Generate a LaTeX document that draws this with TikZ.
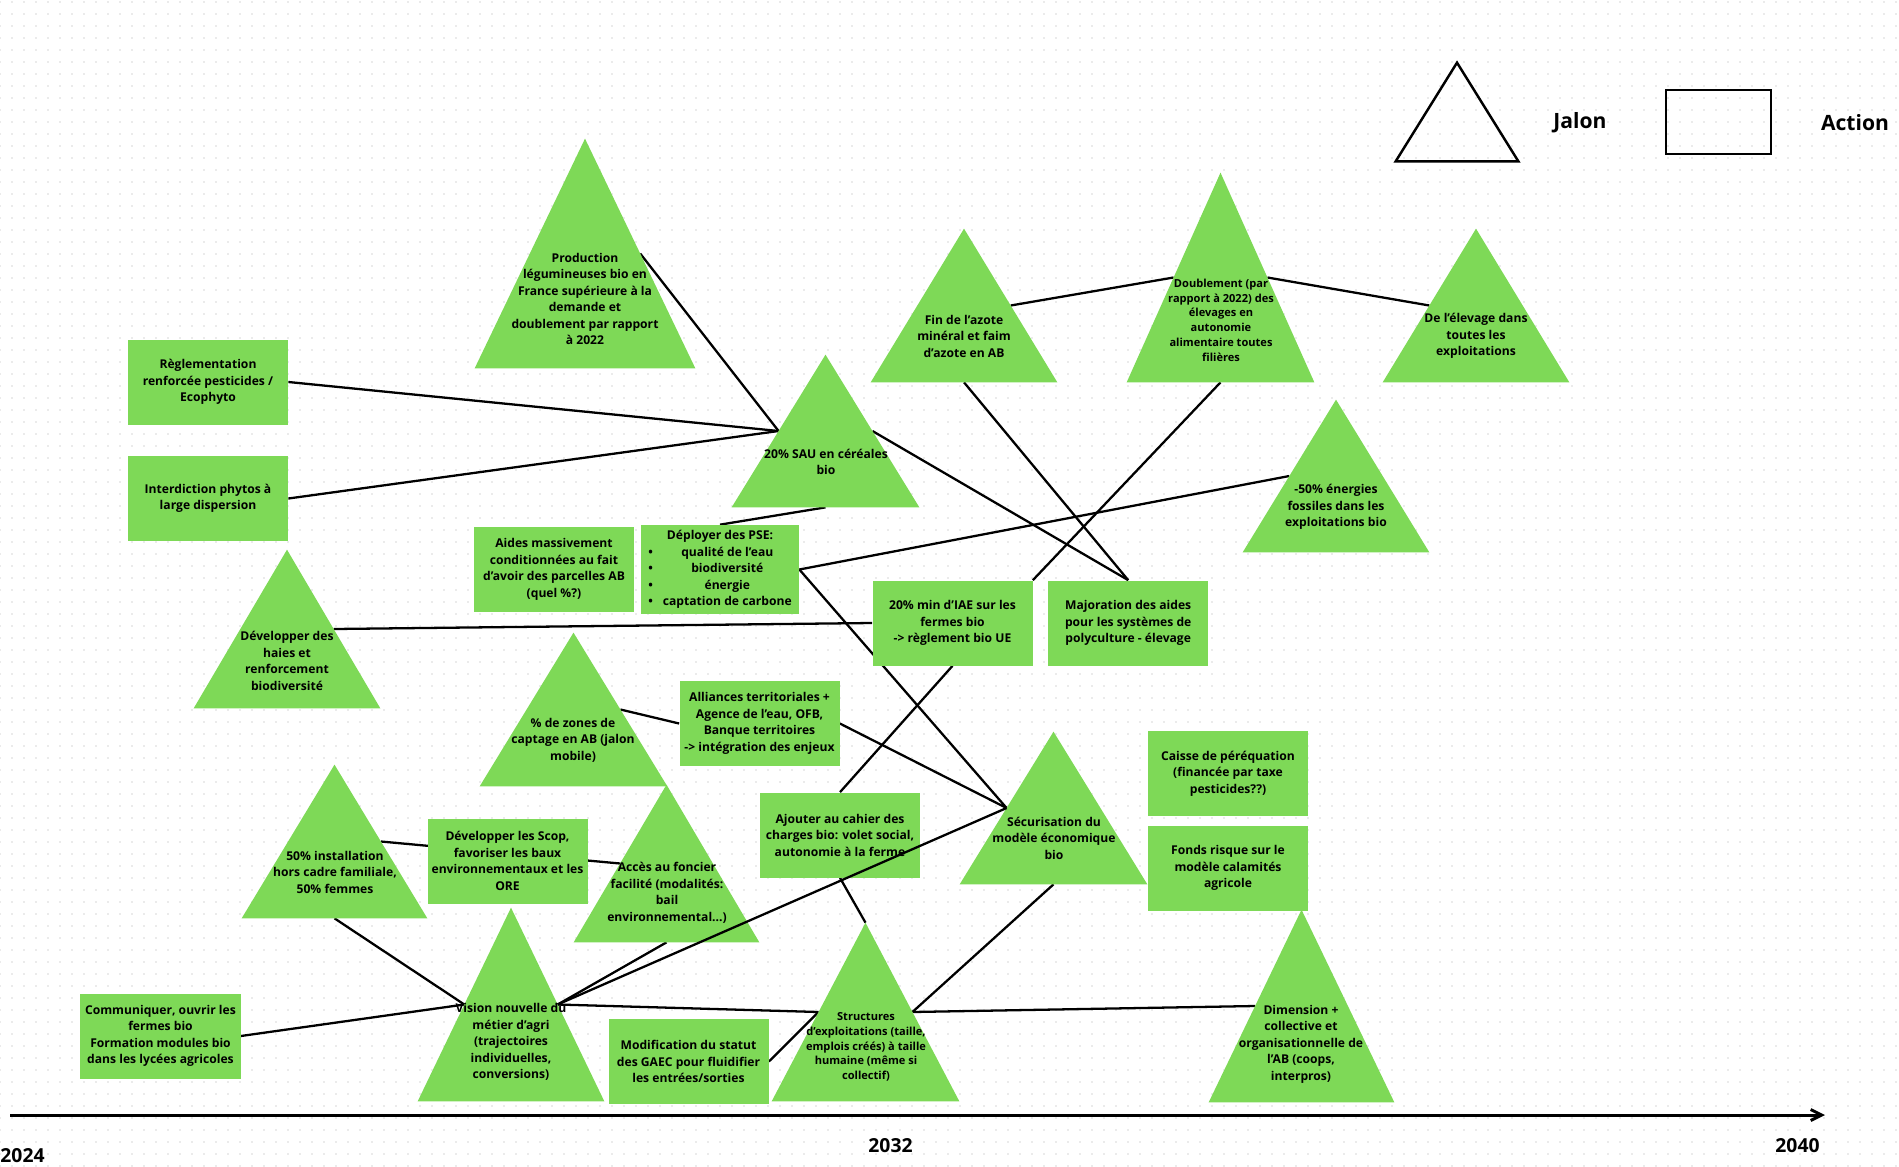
\documentclass[tikz,border=0pt]{standalone}
\usepackage{fontspec}
\setmainfont{Open Sans}
\usetikzlibrary{arrows.meta,positioning,calc,patterns.meta}
\definecolor{nodegreen}{HTML}{7ED957}
\definecolor{griddot}{HTML}{D6D6D6}
\pgfdeclarelayer{fond}
\pgfdeclarelayer{liens}
\pgfsetlayers{fond,liens,main}

\begin{document}
\begin{tikzpicture}[
  x=0.2mm, y=-0.2mm,
  every node/.style={inner sep=0pt, align=center, font=\bfseries\fontsize{6.9}{9.4}\selectfont},
  jalon/.style={minimum width=37.2mm, minimum height=30.6mm},
  action/.style={fill=nodegreen, minimum width=32mm, minimum height=17mm},
  petit/.style={font=\bfseries\fontsize{6.3}{8.4}\selectfont},
  grand/.style={font=\bfseries\fontsize{12}{14}\selectfont},
  annee/.style={font=\bfseries\fontsize{11}{13}\selectfont},
  lien/.style={line width=1.3pt},
]
  \useasboundingbox (0,0) rectangle (1899,1166);
  \begin{pgfonlayer}{fond}
    \fill[pattern={Dots[distance=2.4mm, radius=0.17mm]}, pattern color=griddot] (0,0) rectangle (1899,1166);
  \end{pgfonlayer}

  % Legende
  \node[minimum width=24.4mm, minimum height=19.6mm] (legjalon) at (1457,112) {};
  \draw[line width=1.4pt] (legjalon.south west) -- (legjalon.north) -- (legjalon.south east) -- cycle;
  \node[grand] (txtjalon) at (1580,123) {Jalon};
  \node[draw, line width=1.4pt, minimum width=21mm, minimum height=12.8mm] (legaction) at (1718.5,122) {};
  \node[grand] (txtaction) at (1855,123) {Action};

  % Jalons
  \node[jalon, minimum width=44mm, minimum height=45.8mm] (prod) at (585,253.5) {};
  \node[jalon, minimum width=37.4mm, minimum height=30.4mm] (sau) at (825.5,431) {};
  \node[jalon] (azote) at (964,305.5) {};
  \node[jalon, minimum width=37.4mm, minimum height=41.8mm] (doubl) at (1220.5,277.5) {};
  \node[jalon] (elev) at (1476,305.5) {};
  \node[jalon, minimum height=30.4mm] (ener) at (1336,476) {};
  \node[jalon, minimum height=31.6mm] (haies) at (287,629) {};
  \node[jalon, minimum width=37.4mm] (capt) at (573.5,709.5) {};
  \node[jalon, minimum width=37mm] (inst) at (334.5,841.5) {};
  \node[jalon, minimum width=37mm, minimum height=31.4mm] (fonc) at (666.5,863.5) {};
  \node[jalon, minimum height=38.6mm] (vision) at (511,1004.5) {};
  \node[jalon, minimum width=37.4mm, minimum height=35.6mm] (struct) at (865.5,1012) {};
  \node[jalon, minimum width=37.4mm, minimum height=30.4mm] (secu) at (1053.5,808) {};
  \node[jalon, minimum width=37mm, minimum height=38.4mm] (dim) at (1301.5,1006) {};
  \foreach \j in {prod,sau,azote,doubl,elev,ener,haies,capt,inst,fonc,vision,struct,secu,dim}
    \fill[nodegreen] (\j.south west) -- (\j.north) -- (\j.south east) -- cycle;

  \node (prod-t) at (585,299) {Production\\légumineuses bio en\\France supérieure à la\\demande et\\doublement par rapport\\à 2022};
  \node (sau-t) at (826,462) {20\% SAU en céréales\\bio};
  \node (azote-t) at (964,336) {Fin de l’azote\\minéral et faim\\d’azote en AB};
  \node[petit] (doubl-t) at (1221,320) {Doublement (par\\rapport à 2022) des\\élevages en\\autonomie\\alimentaire toutes\\filières};
  \node (elev-t) at (1476,336) {De l’élevage dans\\toutes les\\exploitations};
  \node (ener-t) at (1336,507) {-50\% énergies\\fossiles dans les\\exploitations bio};
  \node (haies-t) at (287,661) {Développer des\\haies et\\renforcement\\biodiversité};
  \node (capt-t) at (573,740) {\% de zones de\\captage en AB (jalon\\mobile)};
  \node (inst-t) at (335,872) {50\% installation\\hors cadre familiale,\\50\% femmes};
  \node (fonc-t) at (667,893) {Accès au foncier\\facilité (modalités:\\bail\\environnemental...)};
  \node (vision-t) at (511,1042) {Vision nouvelle du\\métier d’agri\\(trajectoires\\individuelles,\\conversions)};
  \node[petit] (struct-t) at (866,1047) {Structures\\d’exploitations (taille,\\emplois créés) à taille\\humaine (même si\\collectif)};
  \node (secu-t) at (1054,838) {Sécurisation du\\modèle économique\\bio};
  \node (dim-t) at (1301,1044) {Dimension +\\collective et\\organisationnelle de\\l’AB (coops,\\interpros)};

  % Actions
  \node[action] (regl) at (208,382) {Règlementation\\renforcée pesticides /\\Ecophyto};
  \node[action] (interd) at (208,498.5) {Interdiction phytos à\\large dispersion};
  \node[action] (aides) at (554,569.5) {Aides massivement\\conditionnées au fait\\d’avoir des parcelles AB\\(quel \%?)};
  \node[action, minimum width=31.6mm, minimum height=17.8mm] (pse) at (720,569.5) {%
    \begin{tabular}{@{}c@{\hspace{2mm}}c@{}}
      \multicolumn{2}{c}{Déployer des PSE:}\\
      \textbullet & qualité de l’eau\\
      \textbullet & biodiversité\\
      \textbullet & énergie\\
      \textbullet & captation de carbone
    \end{tabular}};
  \node[action] (iae) at (952.5,623) {20\% min d’IAE sur les\\fermes bio\\-> règlement bio UE};
  \node[action, right=3mm of iae] (major) {Majoration des aides\\pour les systèmes de\\polyculture - élevage};
  \node[action] (alli) at (759.5,723.5) {Alliances territoriales +\\Agence de l’eau, OFB,\\Banque territoires\\-> intégration des enjeux};
  \node[action] (cahier) at (840,835) {Ajouter au cahier des\\charges bio: volet social,\\autonomie à la ferme};
  \node[action] (scop) at (507.5,861) {Développer les Scop,\\favoriser les baux\\environnementaux et les\\ORE};
  \node[action] (comm) at (160.5,1036) {Communiquer, ouvrir les\\fermes bio\\Formation modules bio\\dans les lycées agricoles};
  \node[action] (gaec) at (688.5,1061.5) {Modification du statut\\des GAEC pour fluidifier\\les entrées/sorties};
  \node[action] (caisse) at (1228,773.5) {Caisse de péréquation\\(financée par taxe\\pesticides??)};
  \node[action, below=1.8mm of caisse] (fonds) {Fonds risque sur le\\modèle calamités\\agricole};

  % Liens
  \begin{pgfonlayer}{liens}
    \draw[lien] ($(prod.north)!.5!(prod.south east)$) -- ($(sau.north)!.5!(sau.south west)$);
    \draw[lien] (regl.east) -- ($(sau.north)!.5!(sau.south west)$);
    \draw[lien] (interd.east) -- ($(sau.north)!.5!(sau.south west)$);
    \draw[lien] (sau.south) -- (pse.north);
    \draw[lien] ($(sau.north)!.5!(sau.south east)$) -- (major.north);
    \draw[lien] (azote.south) -- (major.north);
    \draw[lien] ($(azote.north)!.5!(azote.south east)$) -- ($(doubl.north)!.5!(doubl.south west)$);
    \draw[lien] ($(doubl.north)!.5!(doubl.south east)$) -- ($(elev.north)!.5!(elev.south west)$);
    \draw[lien] (doubl.south) -- (iae.north east);
    \draw[lien] (pse.east) -- ($(ener.north)!.5!(ener.south west)$);
    \draw[lien] (pse.east) -- ($(secu.north)!.5!(secu.south west)$);
    \draw[lien] ($(haies.north)!.5!(haies.south east)$) -- (iae.west);
    \draw[lien] ($(capt.north)!.5!(capt.south east)$) -- (alli.west);
    \draw[lien] (alli.east) -- ($(secu.north)!.5!(secu.south west)$);
    \draw[lien] (iae.south) -- (cahier.north);
    \draw[lien] (cahier.south) -- (struct.north);
    \draw[lien] (secu.south) -- ($(struct.north)!.5!(struct.south east)$);
    \draw[lien] ($(struct.north)!.5!(struct.south east)$) -- ($(dim.north)!.5!(dim.south west)$);
    \draw[lien] ($(vision.north)!.5!(vision.south east)$) -- ($(struct.north)!.5!(struct.south west)$);
    \draw[lien] (gaec.east) -- ($(struct.north)!.5!(struct.south west)$);
    \draw[lien] (comm.east) -- ($(vision.north)!.5!(vision.south west)$);
    \draw[lien] (inst.south) -- ($(vision.north)!.5!(vision.south west)$);
    \draw[lien] ($(inst.north)!.5!(inst.south east)$) -- ($(fonc.north)!.5!(fonc.south west)$);
    \draw[lien] ($(vision.north)!.5!(vision.south east)$) -- (fonc.south);
  \end{pgfonlayer}
  \draw[lien] ($(vision.north)!.5!(vision.south east)$) -- ($(secu.north)!.5!(secu.south west)$);

  % Frise
  \coordinate (debut) at (10,1115);
  \coordinate (fin) at (1825,1115);
  \draw[line width=1.7pt, -{Straight Barb[length=2.2mm, width=2.2mm]}] (debut) -- (fin);
  \node[annee] (an2024) at (22.5,1156) {2024};
  \node[annee] (an2032) at (890.5,1146) {2032};
  \node[annee] (an2040) at (1797.5,1146) {2040};
\end{tikzpicture}
\end{document}
